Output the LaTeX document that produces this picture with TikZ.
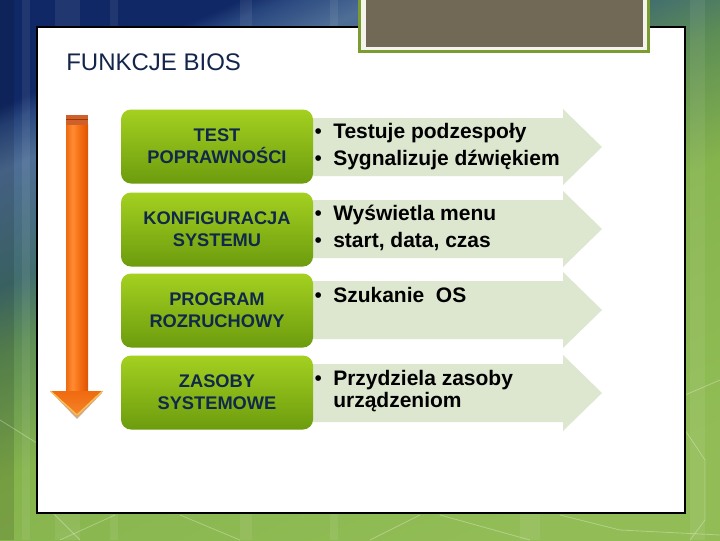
\documentclass[tikz,border=0pt]{standalone}
\usepackage{fontspec}
\setmainfont{Liberation Sans}
\definecolor{bgA}{HTML}{102866}
\definecolor{bgA2}{HTML}{28467E}
\definecolor{bgB}{HTML}{4E6E96}
\definecolor{bgC}{HTML}{426E6E}
\definecolor{bgD}{HTML}{5E8E55}
\definecolor{bgE}{HTML}{86B44C}
\definecolor{bgF}{HTML}{92BD56}
\definecolor{titlecol}{HTML}{13254A}
\definecolor{boxtext}{HTML}{10284A}
\definecolor{gtop}{HTML}{A4D020}
\definecolor{gbot}{HTML}{6C9C0E}
\definecolor{chevcol}{HTML}{DDE7D0}
\definecolor{orA}{HTML}{EE6A12}
\definecolor{orB}{HTML}{FF8C32}
\definecolor{orC}{HTML}{F26A10}
\definecolor{orD}{HTML}{DC5404}
\definecolor{orhead}{HTML}{F06A10}
\definecolor{orheadlow}{HTML}{F5842A}
\definecolor{orcap}{HTML}{D0602A}
\definecolor{oryel}{HTML}{F8C250}
\definecolor{orshadow}{HTML}{A8561E}
\definecolor{brown}{HTML}{716856}
\definecolor{frgreen}{HTML}{7A9C30}
\definecolor{frlight}{HTML}{F4F4EC}
\pgfdeclarehorizontalshading{bgshade}{100bp}{color(0bp)=(bgA); color(25bp)=(bgA); color(26.5bp)=(bgA2); color(30bp)=(bgB); color(39bp)=(bgC); color(44bp)=(bgD); color(54bp)=(bgE); color(75bp)=(bgF); color(100bp)=(bgF)}
\pgfdeclarehorizontalshading{shaftshade}{100bp}{color(0bp)=(orA); color(25bp)=(orA); color(40bp)=(orB); color(58bp)=(orC); color(75bp)=(orD); color(100bp)=(orD)}
\begin{document}
\begin{tikzpicture}[x=0.75pt,y=-0.75pt,
  greenbox/.style={rounded corners=7.5pt, top color=gtop, bottom color=gbot,
    minimum width=144pt, minimum height=55.5pt, inner sep=0pt,
    text=boxtext, align=center, font=\bfseries\fontsize{13.7}{16.5}\selectfont},
  chev/.style={fill=chevcol},
  bultext/.style={anchor=base west, inner sep=0pt, font=\bfseries\fontsize{15.75}{18}\selectfont, text=black},
  stripe/.style={fill=white, opacity=0.07},
  hexline/.style={draw=white, opacity=0.3, line width=0.6pt}
]
\useasboundingbox (0,0) rectangle (720,540);
% background
\begin{scope}[yscale=-1]
\shade[shading=bgshade, shading angle=-66] (0,0) rectangle (720,-540);
\end{scope}
\fill[black, opacity=0.12] (0,0) rectangle (14,540);
\fill[stripe] (22,0) rectangle (30,540);
\fill[stripe] (55,0) rectangle (80,540);
\fill[stripe] (110,0) rectangle (118,540);
\fill[stripe] (240,0) rectangle (252,540);
\fill[stripe] (330,0) rectangle (338,540);
\fill[stripe] (520,0) rectangle (540,540);
\fill[stripe] (690,0) rectangle (705,540);
\draw[hexline] (0,420) -- (40,445) -- (40,500) -- (80,540);
\draw[hexline] (60,540) -- (115,515);
\draw[hexline] (180,515) -- (240,540);
\draw[hexline] (370,540) -- (420,515);
\draw[hexline] (440,515) -- (530,540);
\draw[hexline] (685,395) -- (720,380);
\draw[hexline] (685,430) -- (705,460) -- (705,520) -- (690,540);
\draw[hexline] (560,515) -- (620,530) -- (720,535);
% white panel
\fill[white, draw=black, line width=0.8pt] (37,27) rectangle (685,513);
% top brown box
\fill[frgreen] (358,-5) rectangle (650,53);
\fill[frlight] (361,-5) rectangle (647,50);
\fill[brown] (366,-5) rectangle (643,47);
% title
\node[anchor=base west, inner sep=0pt, text=titlecol, font=\fontsize{18}{20}\selectfont] (title) at (66,70) {FUNKCJE BIOS};
% orange arrow
\shade[shading=shaftshade] (66,124) rectangle (88,392);
\fill[orcap] (66,115) rectangle (88,125);
\draw[orD!70!black, line width=0.5pt] (66,119) -- (88,119);
\fill[orshadow, opacity=0.5] (52,393) -- (102,393) -- (77,419) -- cycle;
\shade[top color=orhead, bottom color=orheadlow] (50,391) -- (103,391) -- (77,416) -- cycle;
\draw[oryel, line width=1pt, line join=round] (51,391.5) -- (77,415) -- (102,391.5);
% chevrons
\foreach \c in {147,229,310,393}{
  \fill[chev] (300,\c-29) -- (563,\c-29) -- (563,\c-38) -- (602,\c) -- (563,\c+38) -- (563,\c+29) -- (300,\c+29) -- cycle;
}
% green boxes
\node[greenbox] (b1) at (217,146.5) {TEST\\POPRAWNOŚCI};
\node[greenbox] (b2) at (217,229.5) {KONFIGURACJA\\SYSTEMU};
\node[greenbox] (b3) at (217,310.5) {PROGRAM\\ROZRUCHOWY};
\node[greenbox] (b4) at (217,392.5) {ZASOBY\\SYSTEMOWE};
% bullet texts
\newcommand\bulmark{\makebox[15pt][l]{\hspace{1pt}\mdseries•}}
\node[bultext] (t1a) at (313,138) {\bulmark Testuje podzespoły};
\node[bultext] (t1b) at (313,165) {\bulmark Sygnalizuje dźwiękiem};
\node[bultext] (t2a) at (313,220) {\bulmark Wyświetla menu};
\node[bultext] (t2b) at (313,247) {\bulmark start, data, czas};
\node[bultext] (t3a) at (313,302) {\bulmark Szukanie\ \ OS};
\node[bultext] (t4a) at (313,385) {\bulmark Przydziela zasoby};
\node[bultext] (t4b) at (333,407) {urządzeniom};
\end{tikzpicture}
\end{document}
